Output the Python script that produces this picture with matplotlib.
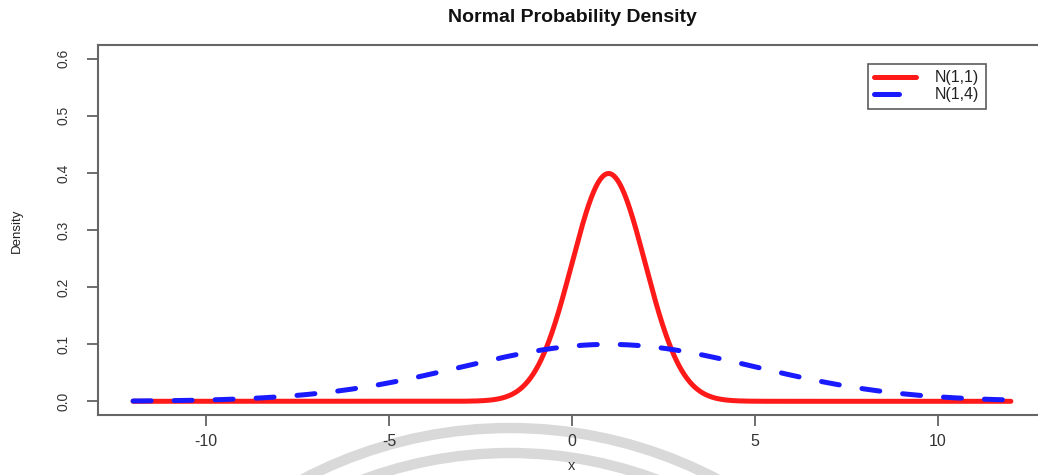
import numpy as np
import matplotlib
matplotlib.use("Agg")
import matplotlib.pyplot as plt
from matplotlib.patches import Arc

plt.rcParams['font.family'] = ['Liberation Sans', 'DejaVu Sans']

# distribution parameters
labels = ["N(1,1)", "N(1,4)"]
means = [1, 1]
sds = [1, 4]
colors = ["#ff1a1a", "#1a1aff"]
styles = ["solid", "dashed"]

x_range = (-12, 12)
x_ticks = [-10, -5, 0, 5, 10]
y_ticks = [0.0, 0.1, 0.2, 0.3, 0.4, 0.5, 0.6]

W, H = 1038, 475
fig = plt.figure(figsize=(W / 100, H / 100), dpi=100)

# faint watermark rings under the x axis
bg = fig.add_axes([0, 0, 1, 1], zorder=0)
bg.set_xlim(0, W)
bg.set_ylim(H, 0)
bg.axis("off")
for r in [890, 840]:
    bg.add_patch(Arc((510, 873), r, r, theta1=180, theta2=360,
                     color="#d9d9d9", lw=7.5))

ax = fig.add_axes([98 / W, 1 - 415 / H, (1046 - 98) / W, (415 - 45) / H], zorder=1)
ax.patch.set_alpha(0)

xs = np.linspace(x_range[0], x_range[1], 1001)
for lab, mu, sd, c, ls in zip(labels, means, sds, colors, styles):
    dens = np.exp(-0.5 * ((xs - mu) / sd) ** 2) / (sd * np.sqrt(2 * np.pi))
    line, = ax.plot(xs, dens, color=c, lw=3.6, ls=ls, label=lab,
                    solid_capstyle="round", dash_capstyle="round")
    if ls == "dashed":
        line.set_dashes((3.6, 4.6))

ax.set_xlim(-12.96, 12.96)
ax.set_ylim(-0.024, 0.624)
ax.set_xticks(x_ticks)
ax.set_xticklabels([str(t) for t in x_ticks])
ax.set_yticks(y_ticks)
ax.set_yticklabels([f"{t:.1f}" for t in y_ticks], rotation=90, va="center")
ax.tick_params(axis="both", colors="#555555", labelcolor="#333333",
               length=8, width=1.2)
ax.tick_params(axis="x", pad=6, labelsize=11.5)
ax.tick_params(axis="y", pad=12, labelsize=10)
for s in ax.spines.values():
    s.set_color("#666666")
    s.set_linewidth(1.5)

fig.text(572 / W, 1 - 466 / H, "x", ha="center", va="center",
         fontsize=10.5, color="#333333")
fig.text(17 / W, 1 - 231 / H, "Density", rotation=90, ha="center", va="center",
         fontsize=9.5, color="#222222")
fig.text(572 / W, 1 - 17 / H, "Normal Probability Density", ha="center", va="center",
         fontsize=14, fontweight="bold", color="#111111")

leg = ax.legend(loc="upper left", bbox_to_anchor=(868 / W, 1 - 64 / H),
                bbox_transform=fig.transFigure, borderaxespad=0,
                fancybox=False, frameon=True, fontsize=11.5,
                handlelength=2.6, handletextpad=1.2, labelspacing=0.12,
                borderpad=0.4)
leg.get_frame().set_edgecolor("#333333")
leg.get_frame().set_linewidth(1.2)
leg.get_lines()[1].set_dashes((5.0, 10.0))
for t in leg.get_texts():
    t.set_color("#222222")

fig.savefig("out.png", dpi=100)
